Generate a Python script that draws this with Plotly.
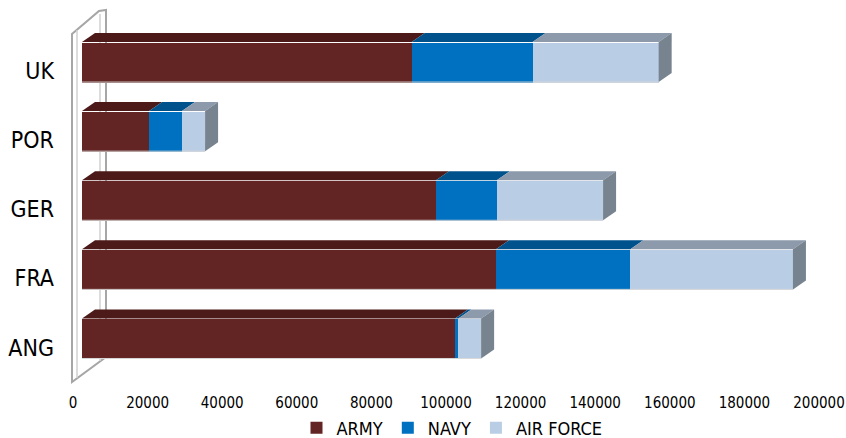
import plotly.graph_objects as go

# ---------------- data ----------------
countries = ["ANG", "FRA", "GER", "POR", "UK"]          # bottom -> top
army      = [100000, 111000, 94900, 18000, 88400]
navy      = [900,    36000,  16300, 8800,  32400]
air_force = [6100,   43600,  28500, 6200,  33800]
x_ticks   = [0, 20000, 40000, 60000, 80000, 100000, 120000, 140000, 160000, 180000, 200000]
series_names = ["ARMY", "NAVY", "AIR FORCE"]

# ---------------- style ----------------
W, H = 846, 438
FONT = "DejaVu Sans Condensed, DejaVu Sans, sans-serif"
front_col = ["#632523", "#0070C0", "#B9CDE5"]
top_col   = ["#4B1A19", "#00528C", "#8D9AAB"]
side_col  = "#77838F"
XMAX = 200000
BAR_W = 0.58
bar_px0, bar_px1 = 82, 828
DX = 13 * XMAX / (bar_px1 - bar_px0)
DY = 9 / 69.0

def px(x):
    return x / W

def py(y):
    return 1 - y / H

ypos = list(range(len(countries)))
series = [army, navy, air_force]

fig = go.Figure()

for name, vals, col in zip(series_names, series, front_col):
    fig.add_trace(go.Bar(
        x=vals, y=ypos, orientation="h", name=name, width=BAR_W,
        marker=dict(color=col, line=dict(width=0)),
        hoverinfo="x+name", xaxis="x", yaxis="y",
    ))

for i, yc in enumerate(ypos):
    yt = yc + BAR_W / 2
    yb = yc - BAR_W / 2
    start = 0
    for k, vals in enumerate(series):
        end = start + vals[i]
        fig.add_trace(go.Scatter(
            x=[start, end, end + DX, start + DX, start],
            y=[yt, yt, yt + DY, yt + DY, yt],
            mode="lines", fill="toself", fillcolor=top_col[k],
            line=dict(width=0, color=top_col[k]), showlegend=False,
            hoverinfo="skip", xaxis="x", yaxis="y",
        ))
        start = end
    fig.add_trace(go.Scatter(
        x=[start, start + DX, start + DX, start, start],
        y=[yb, yb + DY, yt + DY, yt, yb],
        mode="lines", fill="toself", fillcolor=side_col,
        line=dict(width=0, color=side_col), showlegend=False,
        hoverinfo="skip", xaxis="x", yaxis="y",
    ))
    # thin light edge along the bottom of each bar
    fig.add_trace(go.Scatter(
        x=[0, start], y=[yb, yb], mode="lines",
        line=dict(width=1, color="#D9D9D9"), showlegend=False,
        hoverinfo="skip", xaxis="x", yaxis="y",
    ))

totals = [a + n + f for a, n, f in zip(army, navy, air_force)]
fig.add_trace(go.Scatter(
    x=totals, y=ypos, mode="markers", marker=dict(opacity=0),
    showlegend=False, hoverinfo="skip", xaxis="x2", yaxis="y2",
))

wall = (f"M{px(72)},{py(382)} L{px(72)},{py(34)} L{px(99)},{py(11)} "
        f"L{px(106)},{py(10)} L{px(106)},{py(357)} Z")
inner = f"M{px(77)},{py(378)} L{px(77)},{py(30)}"
inner2 = f"M{px(100)},{py(14)} L{px(100)},{py(361)}"
shapes = [
    dict(type="path", path=wall, xref="paper", yref="paper",
         fillcolor="#FFFFFF", line=dict(color="#A6A6A6", width=2), layer="below"),
    dict(type="path", path=inner, xref="paper", yref="paper",
         line=dict(color="#D0D0D0", width=1.5), layer="below"),
    dict(type="path", path=inner2, xref="paper", yref="paper",
         line=dict(color="#D0D0D0", width=1.5), layer="below"),
]

fig.update_layout(
    width=W, height=H,
    margin=dict(l=0, r=0, t=0, b=0, autoexpand=False),
    paper_bgcolor="white", plot_bgcolor="rgba(0,0,0,0)",
    barmode="stack", bargap=0,
    font=dict(family=FONT, color="#000000"),
    shapes=shapes,
    xaxis=dict(domain=[px(bar_px0), px(bar_px1)], range=[0, XMAX],
               visible=False, fixedrange=True, automargin=False),
    yaxis=dict(domain=[py(373), py(27.5)], range=[-0.5, len(countries) - 0.5],
               visible=False, fixedrange=True, automargin=False),
    xaxis2=dict(domain=[px(73), px(819)], range=[0, XMAX], anchor="free",
                position=py(392), tickvals=x_ticks,
                ticktext=[str(t) for t in x_ticks], showgrid=False,
                zeroline=False, showline=False, ticks="", automargin=False,
                tickfont=dict(size=15, family=FONT), fixedrange=True),
    yaxis2=dict(domain=[py(382), py(36.5)], range=[-0.5, len(countries) - 0.5],
                anchor="free", position=px(54), tickvals=ypos, ticktext=countries,
                showgrid=False, zeroline=False, showline=False, ticks="",
                automargin=False,
                tickfont=dict(size=23, family=FONT), fixedrange=True),
    legend=dict(orientation="h", x=px(452), xanchor="center",
                y=py(428), yanchor="middle", font=dict(size=18, family=FONT),
                itemwidth=30, traceorder="normal", bgcolor="rgba(0,0,0,0)"),
    showlegend=True,
)

fig.write_html("out.html")
